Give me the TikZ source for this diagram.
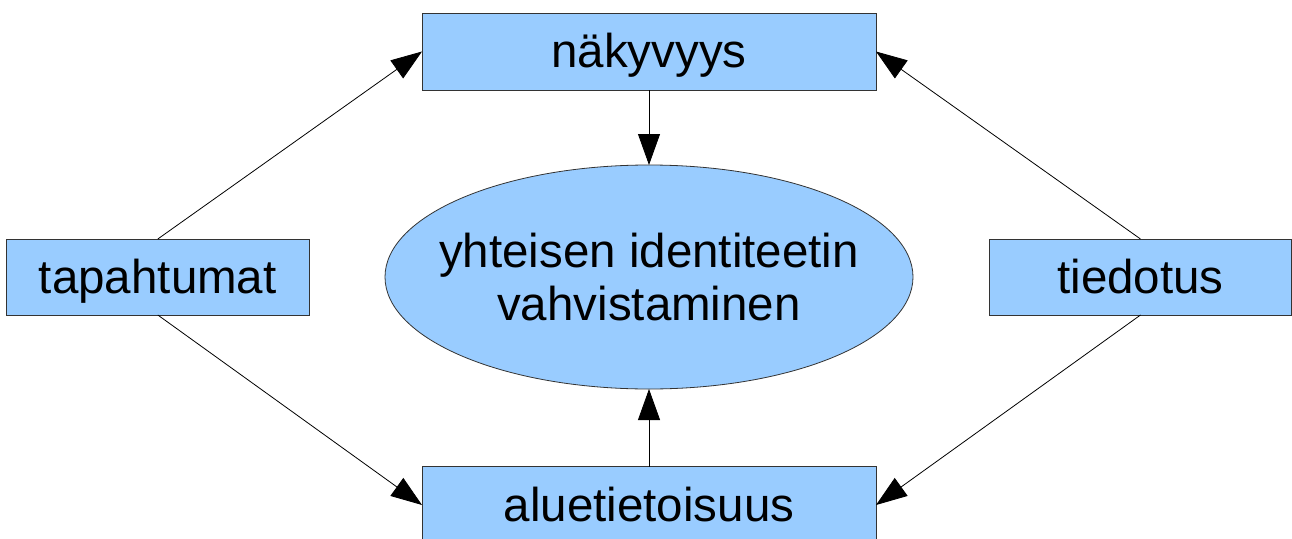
\documentclass[tikz,border=0pt]{standalone}
\usepackage{fontspec}
\setmainfont{Liberation Sans}
\usetikzlibrary{arrows.meta,shapes.geometric}
\definecolor{boxblue}{HTML}{99CCFF}
\definecolor{edgegray}{HTML}{333333}
\tikzset{
  boxnode/.style={draw=edgegray, line width=0.8pt, fill=boxblue, rectangle, inner sep=0pt, outer sep=0pt,
    font=\fontsize{47.5}{53.3}\selectfont, text height=36pt, text depth=4pt},
  ellnode/.style={draw=edgegray, line width=0.8pt, fill=boxblue, ellipse, inner xsep=-60pt, inner ysep=-40pt, outer sep=0pt,
    minimum width=528pt, minimum height=224pt, align=center, font=\fontsize{47.5}{53.3}\selectfont},
  conn/.style={draw=black, line width=0.8pt, -{Triangle[length=31pt,width=22pt]}}
}
\begin{document}
\begin{tikzpicture}[x=1pt,y=-1pt]
\useasboundingbox (0,0) rectangle (1292,538);
\clip (0,0) rectangle (1292,538);
\node[boxnode, minimum width=454pt, minimum height=77pt] (nak) at (649,51.5) {näkyvyys};
\node[boxnode, minimum width=303pt, minimum height=76pt] (tap) at (157.8,277) {tapahtumat};
\node[boxnode, minimum width=302pt, minimum height=76pt] (tie) at (1140.5,277) {tiedotus};
\node[boxnode, minimum width=454pt, minimum height=77pt] (alu) at (649,505) {aluetietoisuus};
\node[ellnode] (ell) at (649,277) {yhteisen identiteetin\\vahvistaminen};
\draw[conn] (tap.north) -- (nak.west);
\draw[conn] (tap.south) -- (alu.west);
\draw[conn] (tie.north) -- (nak.east);
\draw[conn] (tie.south) -- (alu.east);
\draw[conn] (nak.south) -- (ell.north);
\draw[conn] (alu.north) -- (ell.south);
\end{tikzpicture}
\end{document}
